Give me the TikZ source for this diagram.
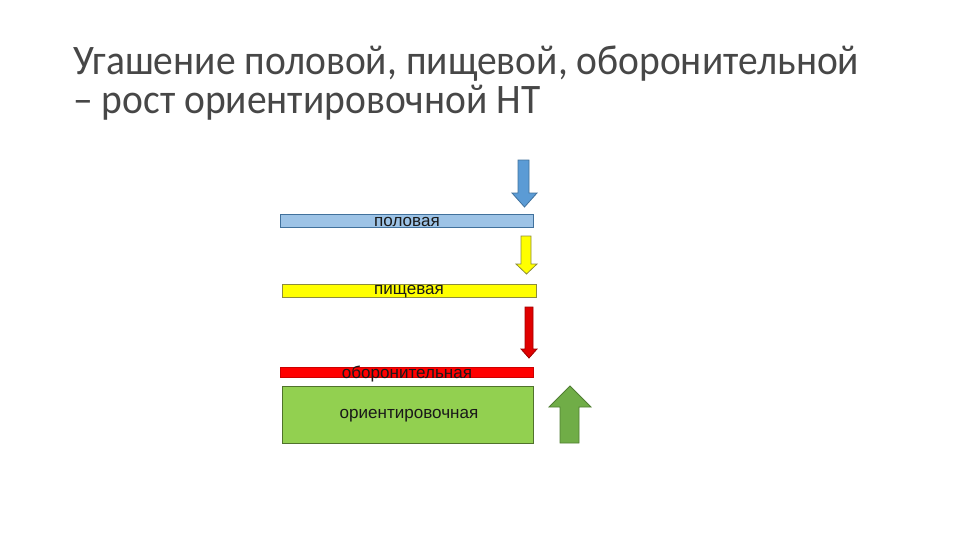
\documentclass[tikz,border=0pt]{standalone}
\usepackage{fontspec}
\setmainfont{Liberation Sans}
\newfontfamily\titlefont[FakeStretch=0.94]{Carlito}
\usepackage{xcolor}
\usepackage{tikz}
\definecolor{barblue}{HTML}{9DC3E6}
\definecolor{arrblue}{HTML}{5B9BD5}
\definecolor{edgeblue}{HTML}{41719C}
\definecolor{baryel}{HTML}{FFFF00}
\definecolor{edgeyel}{HTML}{8C8C3C}
\definecolor{barred}{HTML}{FF0000}
\definecolor{arrred}{HTML}{E00000}
\definecolor{edgered}{HTML}{A00000}
\definecolor{bargrn}{HTML}{92D050}
\definecolor{arrgrn}{HTML}{70AD47}
\definecolor{edgegrn}{HTML}{507E32}
\tikzset{
  bar/.style    = {line width=0.6pt},
  blkarr/.style = {line width=0.6pt, line join=miter},
  lbl/.style    = {font=\fontsize{12.8}{15}\selectfont, inner sep=0pt, text=black!90},
  ttl/.style    = {font=\titlefont\fontsize{31.5}{34}\selectfont, inner sep=0pt,
                   anchor=base west, text=black!72}
}

\begin{document}
\begin{tikzpicture}[x=0.75pt, y=-0.75pt]
\useasboundingbox (0,0) rectangle (960,540);

% ---------- title ----------
\node[ttl] (t1) at (73,74) {Угашение половой, пищевой, оборонительной};
\node[ttl] (t2) at (73,113) {– рост ориентировочной НТ};

% ---------- bars ----------
\draw[bar, fill=barblue, draw=edgeblue] (280,214) rectangle (533,227);
\node[lbl] (sex) at (407,222) {половая};

\draw[bar, fill=baryel, draw=edgeyel] (282,284) rectangle (536,297);
\node[lbl] (food) at (409,292) {пищевая};

\draw[bar, fill=barred, draw=barred!80!black] (280,367) rectangle (533,377);
\node[lbl] (def) at (407,374) {оборонительная};

\draw[bar, fill=bargrn, draw=black!45!bargrn] (282,386) rectangle (533,443);
\node[lbl] (orient) at (409,416) {ориентировочная};

% ---------- block arrows (down: falling, up: rising) ----------
\draw[blkarr, fill=arrblue, draw=edgeblue]
  (518,160) -- (529,160) -- (529,193) -- (537,193) -- (524.5,207)
  -- (512,193) -- (518,193) -- cycle;
\draw[blkarr, fill=baryel, draw=edgeyel]
  (521,236) -- (531,236) -- (531,264) -- (537,264) -- (526.5,274)
  -- (516,264) -- (521,264) -- cycle;
\draw[blkarr, fill=arrred, draw=edgered]
  (525,307) -- (533,307) -- (533,349) -- (537,349) -- (529,358)
  -- (521,349) -- (525,349) -- cycle;
\draw[blkarr, fill=arrgrn, draw=edgegrn]
  (560,443) -- (579,443) -- (579,407) -- (591,407) -- (570,386)
  -- (549,407) -- (560,407) -- cycle;

\end{tikzpicture}
\end{document}
